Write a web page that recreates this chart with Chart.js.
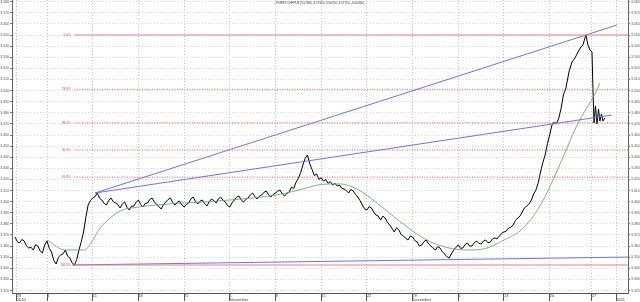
<!DOCTYPE html>
<html>
<head>
<meta charset="utf-8">
<script src="https://cdn.jsdelivr.net/npm/chart.js@4.4.0/dist/chart.umd.min.js"></script>
<style>
  html, body { margin: 0; padding: 0; background: #fff; }
  #wrap { width: 640px; height: 302px; }
</style>
</head>
<body>
<div id="wrap"><canvas id="chart" width="640" height="302"></canvas></div>
<script>
const chartTitle = 'FOREX CHFPLN (3.57920, 3.57920, 3.56750, 3.57720, -0.00260)';

// closes sampled every quarter trading day, counted from the first Monday of October
const sampleStart = -3.5;
const sampleStep = 0.25;
const sampledValues = [
  3.3682,3.3640,3.3628,3.3660,3.3646,3.3602,3.3583,3.3590,3.3565,3.3612,
  3.3601,3.3556,3.3538,3.3610,3.3646,3.3580,3.3547,3.3470,3.3439,3.3500,
  3.3520,3.3530,3.3565,3.3510,3.3493,3.3450,3.3430,3.3480,3.3565,3.3640,
  3.3727,3.3860,3.3970,3.4010,3.4033,3.4045,3.4078,3.4030,3.4015,3.3985,
  3.3970,3.4010,3.4033,3.4000,3.3988,3.3975,3.3943,3.3980,3.3997,3.3950,
  3.3925,3.3960,3.3961,3.3995,3.4015,3.3975,3.3952,3.3985,3.3988,3.4020,
  3.4033,3.3995,3.3979,3.3955,3.3934,3.3975,3.3997,3.4020,3.4033,3.3995,
  3.3970,3.3995,3.4006,3.3970,3.3952,3.3975,3.3988,3.4025,3.4042,3.4000,
  3.3979,3.4005,3.4015,3.3980,3.3961,3.4000,3.4024,3.4010,3.3988,3.4025,
  3.4042,3.4015,3.3997,3.3965,3.3952,3.3990,3.4015,3.4040,3.4051,3.4015,
  3.3997,3.4020,3.4033,3.4060,3.4078,3.4045,3.4024,3.4050,3.4060,3.4085,
  3.4096,3.4060,3.4042,3.4065,3.4078,3.4095,3.4105,3.4070,3.4051,3.4075,
  3.4087,3.4130,3.4120,3.4175,3.4210,3.4260,3.4330,3.4390,3.4420,3.4340,
  3.4290,3.4235,3.4250,3.4200,3.4215,3.4185,3.4200,3.4165,3.4180,3.4150,
  3.4165,3.4141,3.4150,3.4120,3.4114,3.4100,3.4078,3.4110,3.4096,3.4065,
  3.4042,3.4010,3.3970,3.3935,3.3925,3.3955,3.3943,3.3905,3.3880,3.3870,
  3.3835,3.3870,3.3853,3.3815,3.3790,3.3760,3.3727,3.3765,3.3745,3.3705,
  3.3691,3.3670,3.3655,3.3690,3.3682,3.3650,3.3637,3.3600,3.3610,3.3640,
  3.3655,3.3620,3.3601,3.3580,3.3565,3.3595,3.3583,3.3550,3.3529,3.3505,
  3.3493,3.3530,3.3565,3.3590,3.3610,3.3580,3.3583,3.3615,3.3628,3.3600,
  3.3601,3.3630,3.3646,3.3625,3.3619,3.3645,3.3655,3.3630,3.3637,3.3665,
  3.3673,3.3665,3.3691,3.3715,3.3727,3.3735,3.3763,3.3770,3.3790,3.3830,
  3.3853,3.3870,3.3907,3.3945,3.3961,3.3980,3.4015,3.4070,3.4105,3.4170,
  3.4267,3.4350,3.4420,3.4520,3.4600,3.4690,3.4717,3.4700,3.4753,3.4840,
  3.4960];

// the last days, sampled more finely
const lateDays = [56.78,57.11,57.44,57.77,58.10,58.42,58.64,58.86,58.97,59.19,59.41,
  59.63,59.74,59.85,60.01,60.18,60.34,60.50,60.67,60.83,61.05];
const lateValues = [3.5023,3.5167,3.5257,3.5293,3.5347,3.5392,3.5410,3.5473,3.5500,3.5410,3.5365,
  3.5347,3.5005,3.4708,3.4861,3.4699,3.4834,3.4726,3.4789,3.4726,3.4753];

// moving average
const maDays = [0,2,4,6,8,10,12,14,16,18,20,22,24,26,28,30,32,34,36,38,40,42,44,46,48,50,52,54,56,58,60,60.5];
const maValues = [3.3655,3.3565,3.3565,3.3781,3.3916,3.3952,3.3970,3.3984,3.3993,3.4002,3.4015,3.4029,
  3.4047,3.4074,3.4114,3.4155,3.4160,3.4110,3.3995,3.3862,3.3736,3.3637,3.3583,3.3565,3.3579,3.3655,
  3.3754,3.3970,3.4312,3.4690,3.4978,3.5068];

// trend lines: [startDay, startPrice, endDay, endPrice]
const trendUpper = [5.25, 3.4078, 62.36, 3.5590];
const trendMiddle = [5.25, 3.4078, 61.8, 3.4780];
const trendLower = [2.74, 3.3430, 64.0, 3.3502];

const fibRatios = [0, 0.236, 0.382, 0.5, 0.618, 1];
const fibLabels = ['0.0%', '23.6%', '38.2%', '50.0%', '61.8%', '100.0%'];

const tickDays = [-3.3, 0, 5, 10, 15, 20, 25, 30, 35, 40, 45, 50, 55, 59.6, 62.3];
const tickLabels = [['28', '2010'], ['4'], ['11'], ['18'], ['25'], ['1', 'November'], ['8'], ['15'], ['22'],
  ['29', 'December'], ['6'], ['13'], ['20'], ['27'], ['', '2011']];

const xMin = -3.83, xMax = 63.57;
const yMin = 3.3178, yMax = 3.5815;

const pricePoints = sampledValues.map((v, i) => ({ x: sampleStart + i * sampleStep, y: v }))
  .concat(lateDays.map((d, i) => ({ x: d, y: lateValues[i] })));

const fibHigh = Math.max(...pricePoints.map(p => p.y));
const fibLow = Math.min(...pricePoints.map(p => p.y));
const fibStart = pricePoints.find(p => p.y === fibLow).x;

const lineSet = (pts, color, width, dash) => ({
  data: pts, borderColor: color, borderWidth: width, borderDash: dash || [],
  pointRadius: 0, fill: false, tension: 0
});

const datasets = [];
fibRatios.forEach((r, i) => {
  const v = fibHigh - r * (fibHigh - fibLow);
  const edge = i === 0 || i === fibRatios.length - 1;
  datasets.push(lineSet([{ x: fibStart, y: v }, { x: xMax, y: v }],
    edge ? '#f07a8a' : '#e05a5a', edge ? 1.2 : 1, edge ? [] : [1, 1.5]));
});
[trendUpper, trendMiddle, trendLower].forEach(t => {
  datasets.push(lineSet([{ x: t[0], y: t[1] }, { x: t[2], y: t[3] }], '#7272e6', 1));
});
datasets.push(Object.assign(lineSet(maDays.map((d, i) => ({ x: d, y: maValues[i] })), '#5f9f5f', 0.8),
  { cubicInterpolationMode: 'monotone' }));
datasets.push(lineSet(pricePoints, '#000', 1));

const annotations = {
  id: 'annotations',
  afterDatasetsDraw(chart) {
    const { ctx, scales: { x, y }, chartArea } = chart;
    ctx.save();
    ctx.font = '3px "Liberation Sans"';
    ctx.fillStyle = '#e03a3a';
    ctx.textAlign = 'right';
    ctx.textBaseline = 'middle';
    fibRatios.forEach((r, i) => {
      const v = fibHigh - r * (fibHigh - fibLow);
      ctx.fillText(fibLabels[i], x.getPixelForValue(fibStart) - 4, y.getPixelForValue(v));
    });
    ctx.fillStyle = '#333';
    ctx.textAlign = 'center';
    ctx.textBaseline = 'top';
    ctx.fillText(chartTitle, (chartArea.left + chartArea.right) / 2, 2);
    ctx.restore();
  }
};

const yAxis = (pos, grid) => ({
  position: pos, min: yMin, max: yMax,
  ticks: {
    stepSize: 0.005, includeBounds: false, padding: 1,
    font: { family: 'Liberation Sans', size: 3.5 }, color: '#555',
    callback: v => v.toFixed(3)
  },
  grid: { display: true, drawOnChartArea: grid, color: '#d4d4d4', tickColor: '#777', tickLength: 2 },
  border: { color: '#666', width: 1, dash: [1, 2] },
  afterFit: s => { s.width = 12; s.paddingTop = 0; s.paddingBottom = 0; }
});

new Chart(document.getElementById('chart'), {
  type: 'line',
  data: { datasets },
  plugins: [annotations],
  options: {
    responsive: false,
    animation: false,
    layout: { padding: 0 },
    plugins: { legend: { display: false }, tooltip: { enabled: false } },
    scales: {
      x: {
        type: 'linear', min: xMin, max: xMax,
        afterBuildTicks: s => { s.ticks = tickDays.map(v => ({ value: v })); },
        ticks: {
          autoSkip: false, maxRotation: 0, align: 'start', padding: -8,
          font: { family: 'Liberation Sans', size: 4, lineHeight: 1.2 }, color: '#444',
          callback: (v, i) => tickLabels[i]
        },
        grid: { color: '#c4c4c4', tickColor: '#555', tickLength: 8 },
        border: { color: '#555', width: 1, dash: [1, 2] },
        afterFit: s => { s.height = 9; s.paddingLeft = 0; s.paddingRight = 0; }
      },
      y: yAxis('left', true),
      y2: yAxis('right', false)
    }
  }
});
</script>
</body>
</html>
